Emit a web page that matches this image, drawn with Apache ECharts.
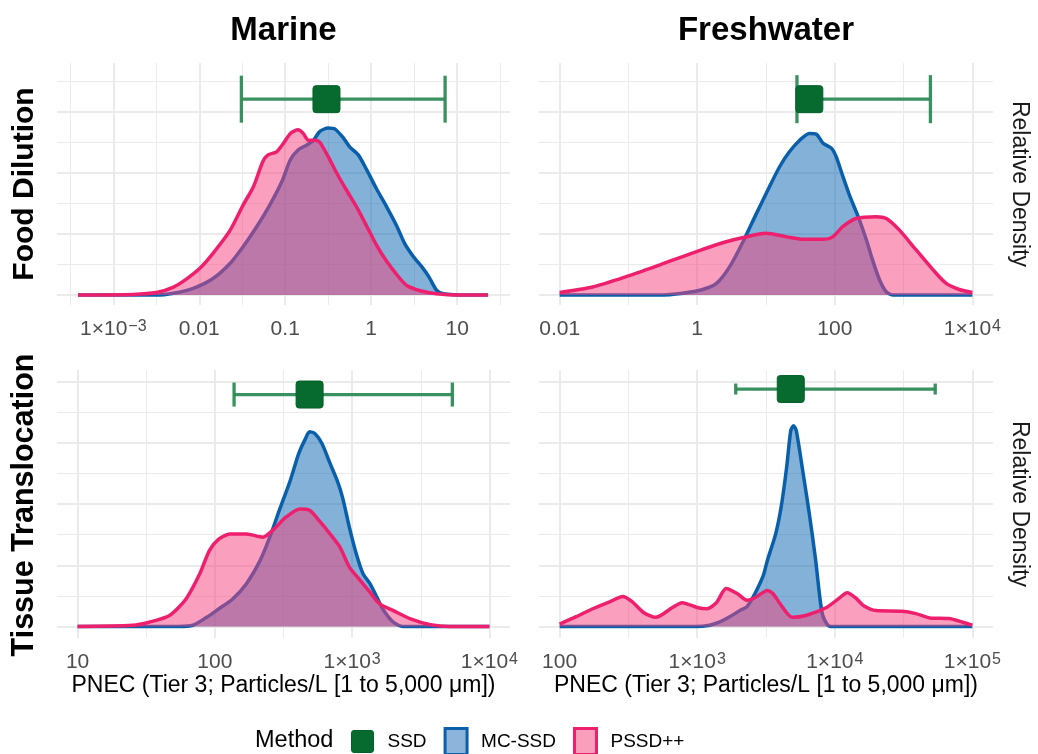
<!DOCTYPE html>
<html><head><meta charset="utf-8">
<script src="https://cdn.jsdelivr.net/npm/echarts@6/dist/echarts.min.js"></script>
<style>html,body{margin:0;padding:0;background:#fff}#c{width:1038px;height:754px}</style>
</head><body><div id="c"></div>
<script>
// All x values are log10(PNEC, particles/L); y values are relative density.
// Panels: Food Dilution / Marine, Food Dilution / Freshwater, Tissue Translocation / Marine, Tissue Translocation / Freshwater
const fdMarineMC = [[-3.41,0],[-2.5,0],[-2.3,0.03],[-2.07,0.11],[-1.84,0.27],[-1.64,0.52],[-1.49,0.79],[-1.33,1.12],[-1.18,1.47],[-1.04,1.85],[-0.94,2.21],[-0.85,2.37],[-0.75,2.45],[-0.67,2.53],[-0.6,2.67],[-0.5,2.73],[-0.42,2.71],[-0.32,2.56],[-0.25,2.42],[-0.15,2.29],[-0.05,2.04],[0.06,1.74],[0.18,1.44],[0.3,1.12],[0.39,0.84],[0.49,0.63],[0.59,0.46],[0.67,0.3],[0.76,0.08],[0.84,0.02],[1.11,0],[1.36,0]];
const fdMarinePS = [[-3.41,0],[-2.77,0.01],[-2.5,0.04],[-2.3,0.13],[-2.15,0.26],[-1.99,0.44],[-1.84,0.68],[-1.64,1.06],[-1.49,1.47],[-1.37,1.77],[-1.26,2.18],[-1.2,2.29],[-1.1,2.34],[-1.02,2.48],[-0.94,2.64],[-0.85,2.7],[-0.79,2.64],[-0.73,2.53],[-0.65,2.53],[-0.6,2.5],[-0.5,2.26],[-0.4,1.99],[-0.29,1.72],[-0.17,1.44],[-0.05,1.12],[0.06,0.82],[0.18,0.55],[0.3,0.33],[0.41,0.16],[0.57,0.07],[0.76,0.02],[1.03,0],[1.36,0]];
const fdFreshMC = [[-2,0],[-0.55,0],[-0.21,0.03],[0.08,0.09],[0.28,0.19],[0.47,0.46],[0.67,0.88],[0.86,1.33],[1.05,1.77],[1.2,2.1],[1.34,2.34],[1.49,2.53],[1.63,2.64],[1.73,2.63],[1.83,2.48],[1.95,2.4],[2.02,2.26],[2.12,1.93],[2.22,1.61],[2.34,1.28],[2.46,0.9],[2.55,0.57],[2.65,0.25],[2.75,0.05],[2.85,0],[4,0]];
const fdFreshPS = [[-2,0.04],[-1.52,0.13],[-1.03,0.3],[-0.55,0.49],[-0.01,0.71],[0.42,0.87],[0.67,0.94],[1.0,1.01],[1.3,0.95],[1.54,0.91],[1.83,0.91],[1.97,0.95],[2.12,1.12],[2.31,1.25],[2.6,1.28],[2.75,1.25],[2.94,1.06],[3.18,0.74],[3.43,0.41],[3.62,0.19],[3.81,0.09],[4,0.04]];
const ttMarineMC = [[1,0],[1.74,0],[1.84,0.02],[1.94,0.15],[2.03,0.29],[2.13,0.45],[2.23,0.7],[2.33,1.08],[2.4,1.46],[2.47,1.9],[2.55,2.39],[2.61,2.82],[2.66,3.07],[2.69,3.18],[2.73,3.15],[2.78,2.99],[2.84,2.66],[2.89,2.39],[2.93,2.11],[2.98,1.62],[3.03,1.19],[3.08,0.86],[3.13,0.7],[3.18,0.48],[3.23,0.26],[3.3,0.07],[3.37,0],[4,0]];
const ttMarinePS = [[1,0],[1.4,0.02],[1.52,0.07],[1.67,0.18],[1.79,0.45],[1.89,0.86],[1.96,1.24],[2.03,1.43],[2.11,1.51],[2.23,1.51],[2.35,1.46],[2.42,1.57],[2.52,1.79],[2.62,1.92],[2.69,1.9],[2.76,1.73],[2.84,1.51],[2.91,1.3],[2.98,0.97],[3.06,0.75],[3.13,0.56],[3.2,0.37],[3.3,0.26],[3.42,0.13],[3.57,0.03],[3.71,0],[4,0]];
const ttFreshMC = [[2,0],[2.99,0],[3.09,0.02],[3.16,0.07],[3.23,0.15],[3.31,0.26],[3.36,0.32],[3.42,0.54],[3.48,0.83],[3.51,1.08],[3.57,1.51],[3.61,1.95],[3.65,2.6],[3.68,3.2],[3.7,3.28],[3.72,3.2],[3.77,2.5],[3.815,1.84],[3.86,1.1],[3.89,0.5],[3.91,0.2],[3.94,0.05],[3.97,0],[5,0]];
const ttFreshPS = [[2,0.04],[2.12,0.16],[2.24,0.29],[2.36,0.4],[2.46,0.49],[2.53,0.4],[2.61,0.23],[2.7,0.15],[2.82,0.31],[2.89,0.39],[3.0,0.31],[3.07,0.29],[3.14,0.39],[3.21,0.62],[3.29,0.54],[3.36,0.43],[3.42,0.47],[3.51,0.59],[3.55,0.54],[3.6,0.38],[3.69,0.15],[3.79,0.18],[3.94,0.31],[4.03,0.46],[4.09,0.55],[4.15,0.47],[4.21,0.34],[4.3,0.26],[4.49,0.25],[4.59,0.21],[4.69,0.14],[4.83,0.13],[4.93,0.07],[5,0.02]];

// SSD point estimate and interval (log10 PNEC) and its vertical position, per panel
const ssdLow  = [-1.51, 1.45, 2.14, 3.28];
const ssdMid  = [-0.52, 1.63, 2.69, 3.68];
const ssdHigh = [0.86, 3.39, 3.73, 4.73];
const ssdY    = [3.2, 3.2, 3.79, 3.88];

// Tick values (log10) and labels per panel
const ticksTL = [-3,-2,-1,0,1],  labelsTL = ['1×10{s|−3}','0.01','0.1','1','10'];
const ticksTR = [-2,0,2,4],      labelsTR = ['0.01','1','100','1×10{s|4}'];
const ticksBL = [1,2,3,4],       labelsBL = ['10','100','1×10{s|3}','1×10{s|4}'];
const ticksBR = [2,3,4,5],       labelsBR = ['100','1×10{s|3}','1×10{s|4}','1×10{s|5}'];
const minorTL = [-3.5,-2.5,-1.5,-0.5,0.5,1.5];
const minorTR = [-1,1,3];
const minorBL = [1.5,2.5,3.5];
const minorBR = [2.5,3.5,4.5];
const yMajorTop = [0,1,2,3], yMinorTop = [0.5,1.5,2.5,3.5];
const yMajorBot = [0,1,2,3,4], yMinorBot = [0.5,1.5,2.5,3.5];

const colTitles = ['Marine','Freshwater'];
const rowTitles = ['Food Dilution','Tissue Translocation'];
const xTitle = 'PNEC (Tier 3; Particles/L [1 to 5,000 μm])';

const FONT = '"Liberation Sans", Arial, sans-serif';
const BLUE = '#0A5FAA', BLUEFILL = '#0A64B0', PINK = '#EE206E', PINKFILL = '#F5407E';
const SSDCOL = '#076A2E', ERRCOL = '#2E8B57';
const GRIDC = '#EBEBEB';
const SQUARE = 'path://M3,0 H24 Q27,0 27,3 V24 Q27,27 24,27 H3 Q0,27 0,24 V3 Q0,0 3,0 Z';

const panels = [
  {mc: fdMarineMC, ps: fdMarinePS, ticks: ticksTL, labels: labelsTL, minor: minorTL, xr: [-3.655, 1.615], yr: [-0.163, 3.791], ym: yMajorTop, yn: yMinorTop, grid: {left:57, top:63, width:453, height:242}, cap: 23.5, bottom:false},
  {mc: fdFreshMC, ps: fdFreshPS, ticks: ticksTR, labels: labelsTR, minor: minorTR, xr: [-2.3, 4.3], yr: [-0.163, 3.791], ym: yMajorTop, yn: yMinorTop, grid: {left:539, top:63, width:454, height:242}, cap: 24, bottom:false},
  {mc: ttMarineMC, ps: ttMarinePS, ticks: ticksBL, labels: labelsBL, minor: minorBL, xr: [0.85, 4.15], yr: [-0.188, 4.191], ym: yMajorBot, yn: yMinorBot, grid: {left:57, top:370, width:453, height:268}, cap: 12, bottom:true},
  {mc: ttFreshMC, ps: ttFreshPS, ticks: ticksBR, labels: labelsBR, minor: minorBR, xr: [1.85, 5.15], yr: [-0.188, 4.191], ym: yMajorBot, yn: yMinorBot, grid: {left:539, top:370, width:454, height:268}, cap: 5.5, bottom:true}
];

function labelFor(ticks, labels, v) {
  for (let k = 0; k < ticks.length; k++) if (Math.abs(ticks[k] - v) < 1e-6) return labels[k];
  return '';
}

const grid = [], xAxis = [], yAxis = [], series = [];
panels.forEach((p, i) => {
  grid.push(Object.assign({containLabel:false}, p.grid));
  xAxis.push({
    type:'value', gridIndex:i, min:p.xr[0], max:p.xr[1],
    axisLine:{show:false}, axisTick:{show:false, customValues:p.ticks},
    splitLine:{show:true, lineStyle:{color:GRIDC, width:2}},
    axisLabel:{customValues:p.ticks, formatter:v => labelFor(p.ticks, p.labels, v),
      fontFamily:FONT, fontSize:21, color:'#4D4D4D', margin:14,
      rich:{s:{fontSize:16, verticalAlign:'top', color:'#4D4D4D', fontFamily:FONT, padding:[0,0,0,1]}}},
    name: p.bottom ? xTitle : '', nameLocation:'middle', nameGap:36,
    nameTextStyle:{fontFamily:FONT, fontSize:23, color:'#000'}
  });
  xAxis.push({
    type:'value', gridIndex:i, min:p.xr[0], max:p.xr[1],
    axisLine:{show:false}, axisTick:{show:false, customValues:p.minor},
    axisLabel:{show:false, customValues:p.minor},
    splitLine:{show:true, lineStyle:{color:GRIDC, width:1}}
  });
  yAxis.push({
    type:'value', gridIndex:i, min:p.yr[0], max:p.yr[1],
    axisLine:{show:false}, axisTick:{show:false, customValues:p.ym},
    axisLabel:{show:false, customValues:p.ym},
    splitLine:{show:true, lineStyle:{color:GRIDC, width:2}}
  });
  yAxis.push({
    type:'value', gridIndex:i, min:p.yr[0], max:p.yr[1],
    axisLine:{show:false}, axisTick:{show:false, customValues:p.yn},
    axisLabel:{show:false, customValues:p.yn},
    splitLine:{show:true, lineStyle:{color:GRIDC, width:1}}
  });
  const xi = 2*i, yi = 2*i;
  series.push({
    name:'MC-SSD', type:'line', xAxisIndex:xi, yAxisIndex:yi, data:p.mc,
    smooth:0.25, showSymbol:false, symbol:'none', z:2,
    lineStyle:{color:BLUE, width:3.5}, itemStyle:{color:BLUE},
    areaStyle:{color:BLUEFILL, opacity:0.5}
  });
  series.push({
    name:'PSSD++', type:'line', xAxisIndex:xi, yAxisIndex:yi, data:p.ps,
    smooth:0.25, showSymbol:false, symbol:'none', z:3,
    lineStyle:{color:PINK, width:3.5}, itemStyle:{color:PINK},
    areaStyle:{color:PINKFILL, opacity:0.5}
  });
  const cap = p.cap;
  series.push({
    name:'SSD', type:'custom', xAxisIndex:xi, yAxisIndex:yi, z:4,
    data:[[ssdLow[i], ssdHigh[i], ssdY[i]]],
    encode:{x:[0,1], y:2},
    renderItem:(params, api) => {
      const lo = api.coord([api.value(0), api.value(2)]);
      const hi = api.coord([api.value(1), api.value(2)]);
      const st = {stroke:ERRCOL, lineWidth:3.3, opacity:0.95};
      return {type:'group', children:[
        {type:'line', shape:{x1:lo[0], y1:lo[1], x2:hi[0], y2:hi[1]}, style:st},
        {type:'line', shape:{x1:lo[0], y1:lo[1]-cap, x2:lo[0], y2:lo[1]+cap}, style:st},
        {type:'line', shape:{x1:hi[0], y1:hi[1]-cap, x2:hi[0], y2:hi[1]+cap}, style:st}
      ]};
    }
  });
  series.push({
    name:'SSD', type:'scatter', xAxisIndex:xi, yAxisIndex:yi, z:5,
    data:[[ssdMid[i], ssdY[i]]], symbol:SQUARE, symbolSize:27,
    itemStyle:{color:SSDCOL, borderColor:'#05612A', borderWidth:1, opacity:1}
  });
});

const graphic = [
  {type:'text', x:283.5, y:31, style:{text:colTitles[0], fontFamily:FONT, fontSize:33, fontWeight:'bold', fill:'#000', align:'center', verticalAlign:'middle'}},
  {type:'text', x:766, y:31, style:{text:colTitles[1], fontFamily:FONT, fontSize:33, fontWeight:'bold', fill:'#000', align:'center', verticalAlign:'middle'}},
  {type:'text', x:25, y:184, rotation:Math.PI/2, style:{text:rowTitles[0], fontFamily:FONT, fontSize:30, fontWeight:'bold', fill:'#000', align:'center', verticalAlign:'middle'}},
  {type:'text', x:25, y:505, rotation:Math.PI/2, style:{text:rowTitles[1], fontFamily:FONT, fontSize:30.5, fontWeight:'bold', fill:'#000', align:'center', verticalAlign:'middle'}},
  {type:'text', x:1019, y:184, rotation:-Math.PI/2, style:{text:'Relative Density', fontFamily:FONT, fontSize:23, fill:'#1A1A1A', align:'center', verticalAlign:'middle'}},
  {type:'text', x:1019, y:504, rotation:-Math.PI/2, style:{text:'Relative Density', fontFamily:FONT, fontSize:23, fill:'#1A1A1A', align:'center', verticalAlign:'middle'}},
  {type:'text', x:255, y:741, style:{text:'Method', fontFamily:FONT, fontSize:23.5, fill:'#000', align:'left', verticalAlign:'middle'}}
];

const chart = echarts.init(document.getElementById('c'), null, {renderer:'canvas'});
chart.setOption({
  animation:false,
  backgroundColor:'#fff',
  grid, xAxis, yAxis, series, graphic,
  legend:{
    left:351, top:727, padding:0, itemWidth:22, itemHeight:26, itemGap:17,
    textStyle:{fontFamily:FONT, fontSize:19, color:'#000', padding:[0,0,0,9]},
    data:[
      {name:'SSD', icon:SQUARE, itemStyle:{color:SSDCOL, borderColor:'#05612A', borderWidth:1}},
      {name:'MC-SSD', icon:'rect', itemStyle:{color:'#8DB4DA', borderColor:BLUE, borderWidth:3}},
      {name:'PSSD++', icon:'rect', itemStyle:{color:'#FA9FBB', borderColor:PINK, borderWidth:3}}
    ]
  }
});
</script></body></html>
